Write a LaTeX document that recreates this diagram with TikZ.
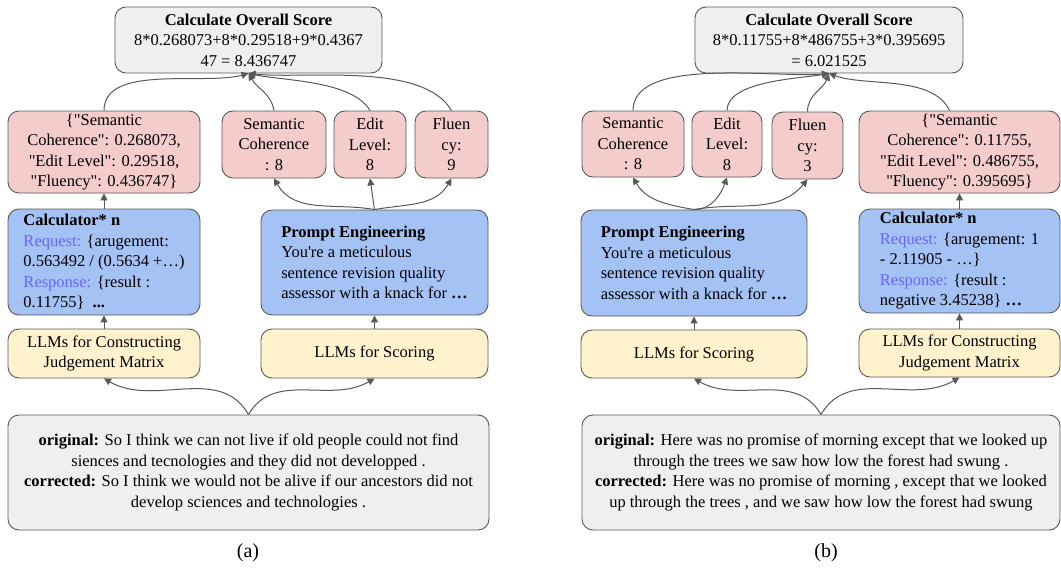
\documentclass[tikz,border=0pt]{standalone}
\usepackage{fontspec}
\setmainfont{Liberation Serif}[Ligatures=TeXOff]
\usetikzlibrary{arrows.meta,positioning}

\definecolor{greyfill}{HTML}{EFEFEF}
\definecolor{redfill}{HTML}{F4CCCC}
\definecolor{bluefill}{HTML}{A4C2F4}
\definecolor{yellowfill}{HTML}{FFF2CC}
\definecolor{edgegrey}{HTML}{595959}
\definecolor{reqblue}{HTML}{6767F2}

\tikzset{
  box/.style={draw=edgegrey, line width=0.9pt, rounded corners=11pt, inner sep=0pt,
    font=\fontsize{16.5}{20.5}\selectfont, align=center},
  greybox/.style={box, fill=greyfill},
  redbox/.style={box, fill=redfill},
  bluebox/.style={box, fill=bluefill, align=left},
  yellowbox/.style={box, fill=yellowfill},
  caption/.style={font=\fontsize{20}{24}\selectfont},
  link/.style={draw=edgegrey, line width=1pt, -{Triangle[length=7pt,width=7pt]}},
}
\newcommand{\req}[1]{\textcolor{reqblue}{#1}}

\begin{document}
\begin{tikzpicture}[x=1pt,y=-1pt]
  \useasboundingbox (0,0) rectangle (1061,570);

  %panel (a)
  \node[greybox, minimum width=267pt, minimum height=66pt] (totalA) at (248.5,40)
    {\textbf{Calculate Overall Score}\\8*0.268073+8*0.29518+9*0.4367\\47 = 8.436747};
  \node[redbox, minimum width=192pt, minimum height=82pt] (jsonA) at (104,152)
    {\{"Semantic\\Coherence": 0.268073,\\ "Edit Level": 0.29518,\\ "Fluency": 0.436747\}};
  \node[redbox, minimum width=104pt, minimum height=67pt] (semA) at (274,144.5) {Semantic\\Coherence\\: 8};
  \node[redbox, minimum width=72pt, minimum height=67pt] (editA) at (370,144.5) {Edit\\Level:\\8};
  \node[redbox, minimum width=73pt, minimum height=67pt] (fluA) at (451.5,144.5) {Fluen\\cy:\\9};
  \node[bluebox, minimum width=192pt, minimum height=106pt] (calcA) at (104,262)
    {\textbf{Calculator* n}\\\req{Request:} \{arugement:\\0.563492 / (0.5634 +…)\\\req{Response:} \{result :\\0.11755\}\ \ \textbf{...}};
  \node[bluebox, minimum width=227pt, minimum height=105pt] (promptA) at (374.5,262.5)
    {\textbf{Prompt Engineering}\\You're a meticulous\\sentence revision quality\\assessor with a knack for \textbf{…}};
  \node[yellowbox, minimum width=192pt, minimum height=49pt] (llmcA) at (104,353.5) {LLMs for Constructing\\Judgement Matrix};
  \node[yellowbox, minimum width=227pt, minimum height=49pt] (llmsA) at (374.5,353.5) {LLMs for Scoring};
  \node[greybox, minimum width=481pt, minimum height=115pt] (inputA) at (248.5,472.5)
    {\textbf{original:} So I think we can not live if old people could not find\\
     siences and tecnologies and they did not developped .\\
     \textbf{corrected:} So I think we would not be alive if our ancestors did not\\
     develop sciences and technologies .};
  \node[caption] (labelA) at (248,553) {(a)};

  \draw[link] (jsonA.north) to[out=90,in=195,looseness=0.8] (totalA.south);
  \draw[link] (semA.north) to[out=100,in=-60] (totalA.south);
  \draw[link] (editA.north) to[out=120,in=-12,looseness=0.7] (totalA.south);
  \draw[link] (fluA.north) to[out=120,in=-6,looseness=0.7] (totalA.south);
  \draw[link] (promptA.north) to[out=170,in=-60] (semA.south);
  \draw[link] (promptA.north) -- (editA.south);
  \draw[link] (promptA.north) to[out=10,in=-120] (fluA.south);
  \draw[link] (calcA.north) -- (jsonA.south);
  \draw[link] (llmcA.north) -- (calcA.south);
  \draw[link] (llmsA.north) -- (promptA.south);
  \draw[link] (inputA.north) to[out=120,in=-30] (llmcA.south);
  \draw[link] (inputA.north) to[out=60,in=-150] (llmsA.south);

  %panel (b)
  \node[greybox, minimum width=268pt, minimum height=66pt] (totalB) at (829,40)
    {\textbf{Calculate Overall Score}\\8*0.11755+8*486755+3*0.395695\\= 6.021525};
  \node[redbox, minimum width=102pt, minimum height=66pt] (semB) at (633,144) {Semantic\\Coherence\\: 8};
  \node[redbox, minimum width=70pt, minimum height=66pt] (editB) at (727,144) {Edit\\Level:\\8};
  \node[redbox, minimum width=71pt, minimum height=67pt] (fluB) at (807.5,145.5) {Fluen\\cy:\\3};
  \node[redbox, minimum width=201pt, minimum height=82pt] (jsonB) at (959.5,152)
    {\{"Semantic\\Coherence": 0.11755,\\ "Edit Level": 0.486755,\\ "Fluency": 0.395695\}};
  \node[bluebox, minimum width=226pt, minimum height=106pt] (promptB) at (694,263)
    {\textbf{Prompt Engineering}\\You're a meticulous\\sentence revision quality\\assessor with a knack for \textbf{…}};
  \node[bluebox, minimum width=201pt, minimum height=104pt] (calcB) at (959.5,261)
    {\textbf{Calculator* n}\\\req{Request:} \{arugement: 1\\- 2.11905 - …\}\\\req{Response:} \{result :\\negative 3.45238\} \textbf{…}};
  \node[yellowbox, minimum width=226pt, minimum height=48pt] (llmsB) at (694,354) {LLMs for Scoring};
  \node[yellowbox, minimum width=201pt, minimum height=48pt] (llmcB) at (959.5,353) {LLMs for Constructing\\Judgement Matrix};
  \node[greybox, minimum width=478pt, minimum height=115pt] (inputB) at (821,472.5)
    {\textbf{original:} Here was no promise of morning except that we looked up\\
     through the trees we saw how low the forest had swung .\\
     \textbf{corrected:} Here was no promise of morning , except that we looked\\
     up through the trees , and we saw how low the forest had swung};
  \node[caption] (labelB) at (826,553) {(b)};

  \draw[link] (semB.north) to[out=90,in=185,looseness=0.7] (totalB.south);
  \draw[link] (editB.north) to[out=90,in=190,looseness=0.7] (totalB.south);
  \draw[link] (fluB.north) to[out=90,in=-110] (totalB.south);
  \draw[link] ([xshift=-10pt]jsonB.north) to[out=115,in=-20,looseness=0.8] (totalB.south);
  \draw[link] (promptB.north) to[out=170,in=-60] (semB.south);
  \draw[link] (promptB.north) to[out=0,in=-110] (editB.south);
  \draw[link] (promptB.north) to[out=10,in=-130] (fluB.south);
  \draw[link] (calcB.north) -- (jsonB.south);
  \draw[link] (llmsB.north) -- (promptB.south);
  \draw[link] (llmcB.north) -- (calcB.south);
  \draw[link] (inputB.north) to[out=120,in=-30] (llmsB.south);
  \draw[link] (inputB.north) to[out=60,in=-150] (llmcB.south);
\end{tikzpicture}
\end{document}
